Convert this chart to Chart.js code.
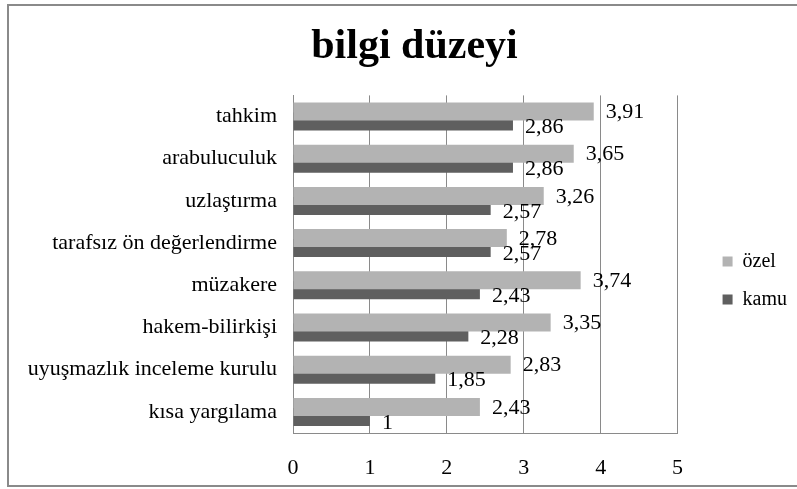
<!DOCTYPE html>
<html>
<head>
<meta charset="utf-8">
<script src="https://cdn.jsdelivr.net/npm/chart.js@4/dist/chart.umd.min.js"></script>
<style>
  html, body { margin: 0; padding: 0; background: #fff; }
  #wrap { width: 797px; height: 489px; }
</style>
</head>
<body>
<div id="wrap"><canvas id="c" width="797" height="489"></canvas></div>
<script>
  /* ── veri ── */
  const categories = ['tahkim', 'arabuluculuk', 'uzlaştırma', 'tarafsız ön değerlendirme',
                      'müzakere', 'hakem-bilirkişi', 'uyuşmazlık inceleme kurulu', 'kısa yargılama'];
  const ozelValues = [3.91, 3.65, 3.26, 2.78, 3.74, 3.35, 2.83, 2.43];
  const kamuValues = [2.86, 2.86, 2.57, 2.57, 2.43, 2.28, 1.85, 1];
  const xTicks     = [0, 1, 2, 3, 4, 5];

  const SERIF = '"Liberation Serif", "Times New Roman", serif';
  const GRID  = '#8a8a8a';

  /* ── dış çerçeve ── */
  const framePlugin = {
    id: 'frame',
    beforeDraw(chart) {
      const ctx = chart.ctx;
      ctx.save();
      ctx.fillStyle = '#fff';
      ctx.fillRect(0, 0, chart.width, chart.height);
      ctx.strokeStyle = GRID;
      ctx.lineWidth = 2;
      ctx.strokeRect(8, 5, 800, 481);
      ctx.restore();
    }
  };

  /* ── değer etiketleri (3,91 gibi virgüllü) ── */
  const valueLabels = {
    id: 'valueLabels',
    afterDatasetsDraw(chart) {
      const ctx = chart.ctx;
      ctx.save();
      ctx.font = '22px ' + SERIF;
      ctx.fillStyle = '#000';
      ctx.textAlign = 'left';
      ctx.textBaseline = 'middle';
      chart.data.datasets.forEach((ds, di) => {
        const meta = chart.getDatasetMeta(di);
        const dy = di === 0 ? 1 : 6;
        meta.data.forEach((bar, i) => {
          const txt = String(ds.data[i]).replace('.', ',');
          ctx.fillText(txt, bar.x + 12, bar.y + dy);
        });
      });
      ctx.restore();
    }
  };

  new Chart(document.getElementById('c'), {
    type: 'bar',
    data: {
      labels: categories,
      datasets: [
        { label: 'özel', data: ozelValues, backgroundColor: '#b3b3b3' },
        { label: 'kamu', data: kamuValues, backgroundColor: '#5f5f5f' },
      ],
    },
    options: {
      indexAxis: 'y',
      responsive: false,
      animation: false,
      categoryPercentage: 0.4734,
      barPercentage: 1.8,
      layout: { padding: { left: 32, right: 0, top: 10, bottom: 0 } },
      plugins: {
        title: {
          display: true,
          text: 'bilgi düzeyi',
          color: '#000',
          font: { family: SERIF, size: 42, weight: 'bold' },
          padding: { top: 12, bottom: 23 },
        },
        legend: {
          position: 'right',
          fullSize: false,
          title: { display: true, text: ' ', font: { family: SERIF, size: 20 }, padding: { top: 4.3, bottom: 4.3 } },
          labels: {
            color: '#000',
            font: { family: SERIF, size: 20 },
            boxWidth: 10,
            boxHeight: 10,
            padding: 18,
          },
        },
        tooltip: { enabled: false },
      },
      scales: {
        x: {
          min: 0,
          max: 5,
          afterBuildTicks: s => { s.ticks = xTicks.map(v => ({ value: v })); },
          ticks: { color: '#000', font: { family: SERIF, size: 22 }, padding: 22 },
          grid: { color: GRID, drawTicks: false },
          border: { display: true, color: GRID },
          afterFit: s => { s.height = 56; },
        },
        y: {
          ticks: { color: '#000', font: { family: SERIF, size: 22 }, padding: 16 },
          grid: { display: false, drawTicks: false },
          border: { display: true, color: GRID },
          afterFit: s => {
            s.width = 261;
            // uzun etiket (uyuşmazlık ...) eksen kutusuna sığmıyor, kırpılmasın
            s._computeLabelArea = () => null;
          },
        },
        yR: {
          type: 'linear',
          position: 'right',
          min: 0,
          max: 1,
          ticks: { display: false },
          grid: { display: false, drawTicks: false },
          border: { display: false },
          afterFit: s => { s.width = 27; },
        },
      },
    },
    plugins: [framePlugin, valueLabels],
  });
</script>
</body>
</html>
